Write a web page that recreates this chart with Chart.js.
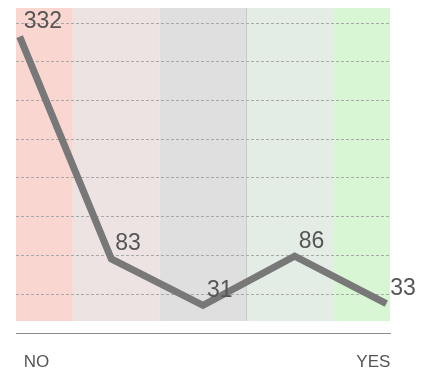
<!DOCTYPE html>
<html>
<head>
<meta charset="utf-8">
<script src="https://cdn.jsdelivr.net/npm/chart.js@4/dist/chart.umd.min.js"></script>
<style>
  html, body { margin: 0; padding: 0; background: #fff; }
  #wrap { width: 430px; height: 373px; }
</style>
</head>
<body>
<div id="wrap"><canvas id="c" width="430" height="373"></canvas></div>
<script>
// Answer scale from NO to YES and the response count at each step
const categories = ['NO', '', '', '', 'YES'];
const values = [332, 83, 31, 86, 33];
// Horizontal guide lines (value positions)
const gridValues = [43, 87, 130, 174, 217, 260, 304, 347];
// Coloured background zones along the answer scale
const bandEdges = [-0.04, 0.58, 1.53, 2.47, 3.42, 4.04];
const bandColors = ['#f9d6d0', '#ede3e3', '#dfdfdf', '#e3ece5', '#d8f6d4'];
const dividerAt = 2.47;

const FONT = "'Liberation Sans', Arial, Helvetica, sans-serif";

const bandsPlugin = {
  id: 'bands',
  beforeDraw(chart) {
    const { ctx, chartArea } = chart;
    const x = chart.scales.x;
    const top = chartArea.top;
    const bottom = chartArea.bottom - 12;
    ctx.save();
    for (let i = 0; i < bandColors.length; i++) {
      const x0 = x.getPixelForValue(bandEdges[i]);
      const x1 = x.getPixelForValue(bandEdges[i + 1]);
      ctx.fillStyle = bandColors[i];
      ctx.fillRect(x0, top, x1 - x0, bottom - top);
    }
    const xd = Math.round(x.getPixelForValue(dividerAt)) + 0.5;
    ctx.strokeStyle = '#c6cfc7';
    ctx.lineWidth = 1;
    ctx.beginPath();
    ctx.moveTo(xd, top);
    ctx.lineTo(xd, bottom);
    ctx.stroke();
    ctx.restore();
  }
};

const valueLabels = {
  id: 'valueLabels',
  afterDatasetsDraw(chart) {
    const { ctx } = chart;
    const meta = chart.getDatasetMeta(0);
    ctx.save();
    ctx.font = '23px ' + FONT;
    ctx.fillStyle = '#555';
    ctx.textAlign = 'left';
    ctx.textBaseline = 'middle';
    meta.data.forEach((pt, i) => {
      ctx.fillText(String(values[i]), pt.x + 4, pt.y - 15);
    });
    ctx.restore();
  }
};

new Chart(document.getElementById('c'), {
  type: 'line',
  data: {
    datasets: [{
      data: values.map((v, i) => ({ x: i, y: v })),
      borderColor: '#787878',
      borderWidth: 7,
      borderJoinStyle: 'miter',
      tension: 0,
      pointRadius: 0,
      pointHoverRadius: 0,
      fill: false
    }]
  },
  options: {
    responsive: false,
    devicePixelRatio: 1,
    animation: false,
    events: [],
    layout: { padding: { left: 16, right: 40, top: 8, bottom: 0 } },
    plugins: { legend: { display: false }, tooltip: { enabled: false } },
    scales: {
      x: {
        type: 'linear',
        min: bandEdges[0],
        max: bandEdges[bandEdges.length - 1],
        afterBuildTicks(scale) {
          scale.ticks = [{ value: 0 }, { value: categories.length - 1 }];
        },
        afterFit(scale) {
          scale.height = 40;
        },
        ticks: {
          callback: (v) => categories[v],
          align: 'inner',
          labelOffset: 4,
          padding: 19,
          maxRotation: 0,
          autoSkip: false,
          color: '#555',
          font: { family: FONT, size: 17 }
        },
        grid: { display: false, drawTicks: false },
        border: { display: true, color: '#8c8c8c', width: 1 }
      },
      y: {
        min: 0,
        max: 364,
        afterBuildTicks(scale) {
          scale.ticks = gridValues.map(v => ({ value: v }));
        },
        ticks: { display: false },
        grid: { color: '#a9a9a9', lineWidth: 1, drawTicks: false },
        border: { display: false, dash: [3, 2] }
      }
    }
  },
  plugins: [bandsPlugin, valueLabels]
});
</script>
</body>
</html>
